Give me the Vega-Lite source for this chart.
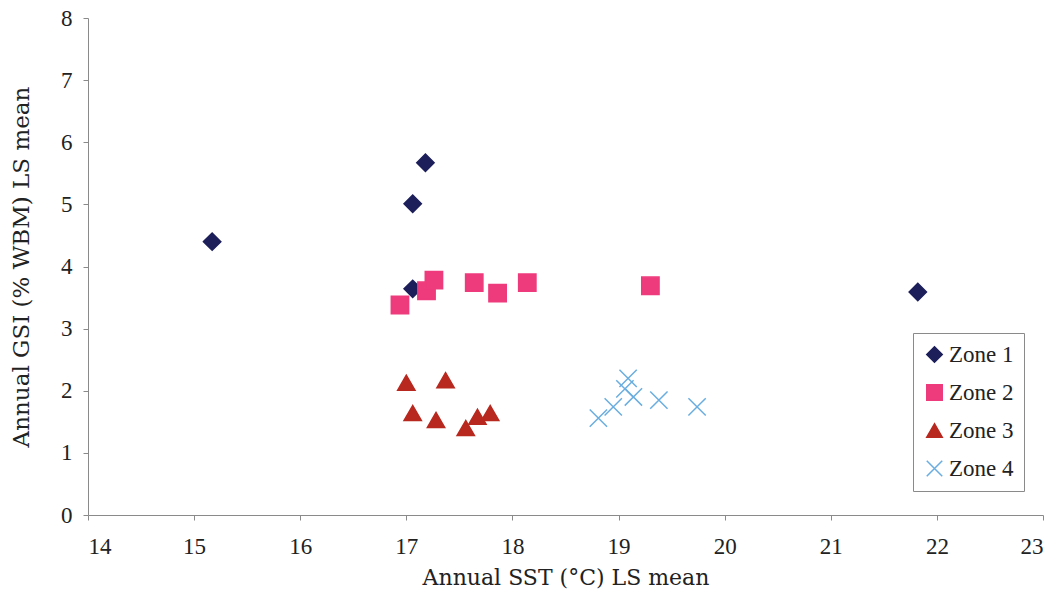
{
  "$schema": "https://vega.github.io/schema/vega-lite/v6.json",
  "autosize": "none",
  "width": 955,
  "height": 497,
  "padding": {"left": 88, "top": 18, "right": 14, "bottom": 82},
  "background": "white",
  "config": {
    "view": {"stroke": null},
    "font": "Liberation Serif",
    "axis": {
      "grid": false,
      "domainColor": "#8a8a8a",
      "tickColor": "#8a8a8a",
      "tickSize": 5,
      "labelFont": "Liberation Serif",
      "labelFontSize": 23,
      "labelColor": "#222222",
      "titleFont": "DejaVu Serif",
      "titleFontWeight": "normal",
      "titleColor": "#222222"
    },
    "legend": {
      "title": null,
      "orient": "none",
      "legendX": 825,
      "legendY": 315,
      "strokeColor": "#8a8a8a",
      "padding": 10,
      "rowPadding": 14,
      "symbolSize": 240,
      "labelFont": "Liberation Serif",
      "labelFontSize": 23,
      "labelColor": "#222222",
      "labelOffset": 3
    }
  },
  "data": {
    "values": [
      {"zone": "Zone 1", "sst": 15.17, "gsi": 4.40},
      {"zone": "Zone 1", "sst": 17.06, "gsi": 5.01},
      {"zone": "Zone 1", "sst": 17.18, "gsi": 5.67},
      {"zone": "Zone 1", "sst": 17.06, "gsi": 3.64},
      {"zone": "Zone 1", "sst": 21.82, "gsi": 3.59},
      {"zone": "Zone 2", "sst": 16.94, "gsi": 3.38},
      {"zone": "Zone 2", "sst": 17.19, "gsi": 3.61},
      {"zone": "Zone 2", "sst": 17.26, "gsi": 3.78},
      {"zone": "Zone 2", "sst": 17.64, "gsi": 3.74},
      {"zone": "Zone 2", "sst": 17.86, "gsi": 3.57},
      {"zone": "Zone 2", "sst": 18.14, "gsi": 3.74},
      {"zone": "Zone 2", "sst": 19.30, "gsi": 3.69},
      {"zone": "Zone 3", "sst": 17.00, "gsi": 2.13},
      {"zone": "Zone 3", "sst": 17.37, "gsi": 2.17},
      {"zone": "Zone 3", "sst": 17.06, "gsi": 1.64},
      {"zone": "Zone 3", "sst": 17.28, "gsi": 1.53},
      {"zone": "Zone 3", "sst": 17.56, "gsi": 1.40},
      {"zone": "Zone 3", "sst": 17.67, "gsi": 1.58},
      {"zone": "Zone 3", "sst": 17.79, "gsi": 1.64},
      {"zone": "Zone 4", "sst": 18.81, "gsi": 1.56},
      {"zone": "Zone 4", "sst": 18.95, "gsi": 1.74},
      {"zone": "Zone 4", "sst": 19.09, "gsi": 2.20},
      {"zone": "Zone 4", "sst": 19.06, "gsi": 2.03},
      {"zone": "Zone 4", "sst": 19.14, "gsi": 1.90},
      {"zone": "Zone 4", "sst": 19.38, "gsi": 1.85},
      {"zone": "Zone 4", "sst": 19.74, "gsi": 1.74}
    ]
  },
  "mark": {"type": "point", "size": 300, "strokeWidth": 1.5, "opacity": 1},
  "encoding": {
    "x": {
      "field": "sst",
      "type": "quantitative",
      "scale": {"domain": [14, 23], "nice": false, "zero": false},
      "axis": {"values": [14, 15, 16, 17, 18, 19, 20, 21, 22, 23], "labelPadding": 15, "titlePadding": 9, "titleFontSize": 22, "title": "Annual SST (°C) LS mean"}
    },
    "y": {
      "field": "gsi",
      "type": "quantitative",
      "scale": {"domain": [0, 8], "nice": false},
      "axis": {"values": [0, 1, 2, 3, 4, 5, 6, 7, 8], "labelPadding": 11, "titlePadding": 27, "titleFontSize": 23, "title": "Annual GSI (% WBM) LS mean"}
    },
    "shape": {
      "field": "zone",
      "type": "nominal",
      "title": null,
      "scale": {"domain": ["Zone 1", "Zone 2", "Zone 3", "Zone 4"], "range": ["diamond", "square", "triangle-up", "M-1,-1L1,1M-1,1L1,-1"]}
    },
    "fill": {
      "field": "zone",
      "type": "nominal",
      "title": null,
      "scale": {"domain": ["Zone 1", "Zone 2", "Zone 3", "Zone 4"], "range": ["#1c1f5a", "#ee3b7c", "#b8281e", "transparent"]}
    },
    "stroke": {
      "field": "zone",
      "type": "nominal",
      "title": null,
      "scale": {"domain": ["Zone 1", "Zone 2", "Zone 3", "Zone 4"], "range": ["#1c1f5a", "#ee3b7c", "#b8281e", "#6aaee0"]}
    }
  }
}
